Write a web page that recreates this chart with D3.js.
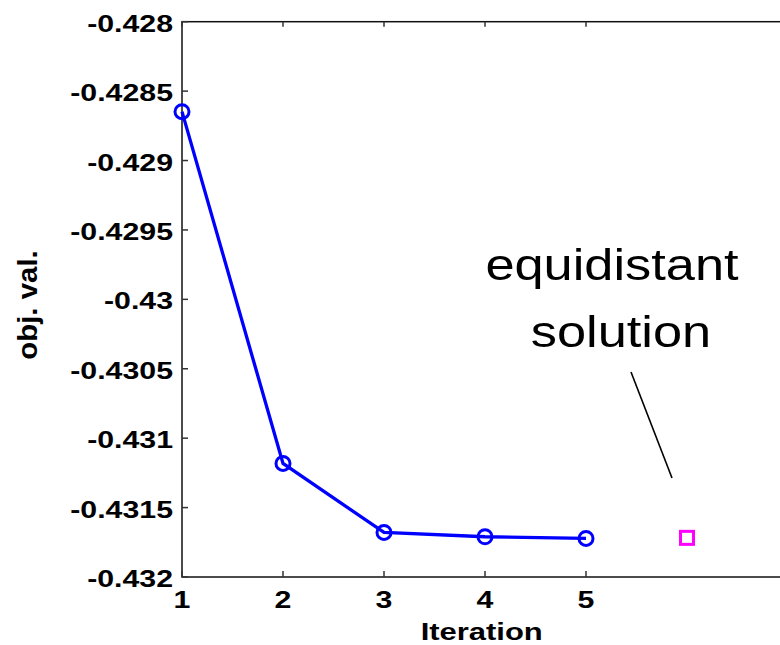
<!DOCTYPE html>
<html>
<head>
<meta charset="utf-8">
<script src="https://cdn.jsdelivr.net/npm/d3@7"></script>
<style>
  html, body { margin: 0; padding: 0; background: #fff; overflow: hidden; }
  svg { display: block; }
</style>
</head>
<body>
<svg id="chart" width="780" height="645"></svg>
<script>
// ---- data ----
const iterations = [1, 2, 3, 4, 5];
const objValues = [-0.428648, -0.431182, -0.431679, -0.431710, -0.431722];
const equidistantX = [6];
const equidistantY = [-0.431718];
const xTicks = [1, 2, 3, 4, 5];
const yTicks = [-0.428, -0.4285, -0.429, -0.4295, -0.43, -0.4305, -0.431, -0.4315, -0.432];
const yTickLabels = ["-0.428", "-0.4285", "-0.429", "-0.4295", "-0.43", "-0.4305", "-0.431", "-0.4315", "-0.432"];
const annotationLines = ["equidistant", "solution"];
const xLabel = "Iteration";
const yLabel = "obj. val.";

// ---- layout ----
const plotL = 182, plotR = 788, plotT = 21.7, plotB = 577;
const svg = d3.select("#chart");
const x = d3.scaleLinear().domain([1, 7]).range([plotL, plotR]);
const y = d3.scaleLinear().domain([-0.432, -0.428]).range([plotB, plotT]);
const font = "'Liberation Sans', Arial, Helvetica, sans-serif";

// box
svg.append("rect")
  .attr("x", plotL).attr("y", plotT)
  .attr("width", plotR - plotL).attr("height", plotB - plotT)
  .attr("fill", "none").attr("stroke", "#111").attr("stroke-width", 1.5);

// ticks (inward) on all sides
const g = svg.append("g").attr("stroke", "#333").attr("stroke-width", 1.5);
xTicks.forEach(t => {
  g.append("line").attr("x1", x(t)).attr("x2", x(t)).attr("y1", plotB).attr("y2", plotB - 6);
  g.append("line").attr("x1", x(t)).attr("x2", x(t)).attr("y1", plotT).attr("y2", plotT + 5);
});
yTicks.forEach(t => {
  g.append("line").attr("x1", plotL).attr("x2", plotL + 6).attr("y1", y(t)).attr("y2", y(t));
  g.append("line").attr("x1", plotR).attr("x2", plotR - 6).attr("y1", y(t)).attr("y2", y(t));
});

// tick labels
yTicks.forEach((t, i) => {
  svg.append("text")
    .attr("transform", `translate(173,${y(t) + 10}) scale(1.3,1)`)
    .attr("text-anchor", "end")
    .attr("font-family", font).attr("font-weight", "bold").attr("font-size", 23.3)
    .attr("fill", "#000")
    .text(yTickLabels[i]);
});
xTicks.forEach(t => {
  svg.append("text")
    .attr("transform", `translate(${x(t)},608) scale(1.3,1)`)
    .attr("text-anchor", "middle")
    .attr("font-family", font).attr("font-weight", "bold").attr("font-size", 23.3)
    .attr("fill", "#000")
    .text(t);
});

// axis labels
svg.append("text")
  .attr("transform", `translate(481.7,640) scale(1.29,1)`)
  .attr("text-anchor", "middle")
  .attr("font-family", font).attr("font-weight", "bold").attr("font-size", 24)
  .attr("fill", "#000")
  .text(xLabel);
svg.append("text")
  .attr("transform", `translate(37,305) rotate(-90) scale(1.09,1)`)
  .attr("text-anchor", "middle")
  .attr("font-family", font).attr("font-weight", "bold").attr("font-size", 27)
  .attr("fill", "#000")
  .text(yLabel);

// series line
const line = d3.line().x((d, i) => x(iterations[i])).y(d => y(d));
svg.append("path")
  .datum(objValues)
  .attr("d", line)
  .attr("fill", "none").attr("stroke", "#0000ff").attr("stroke-width", 3.3);
svg.selectAll("circle.pt")
  .data(objValues)
  .enter().append("circle")
  .attr("class", "pt")
  .attr("cx", (d, i) => x(iterations[i]))
  .attr("cy", d => y(d))
  .attr("r", 7)
  .attr("fill", "none").attr("stroke", "#0000ff").attr("stroke-width", 3);

// equidistant solution marker
svg.selectAll("rect.sq")
  .data(equidistantY)
  .enter().append("rect")
  .attr("class", "sq")
  .attr("x", (d, i) => x(equidistantX[i]) - 6.5)
  .attr("y", d => y(d) - 6.5)
  .attr("width", 13).attr("height", 13)
  .attr("fill", "none").attr("stroke", "#ff00ff").attr("stroke-width", 3);

// annotation
const annX = [612, 621];
const annY = [280, 347];
annotationLines.forEach((s, i) => {
  svg.append("text")
    .attr("transform", `translate(${annX[i]},${annY[i]}) scale(1.19,1)`)
    .attr("text-anchor", "middle")
    .attr("font-family", font).attr("font-size", 44)
    .attr("fill", "#000")
    .text(s);
});
svg.append("line")
  .attr("x1", 631).attr("y1", 372).attr("x2", 672).attr("y2", 478)
  .attr("stroke", "#000").attr("stroke-width", 1.6);
</script>
</body>
</html>
